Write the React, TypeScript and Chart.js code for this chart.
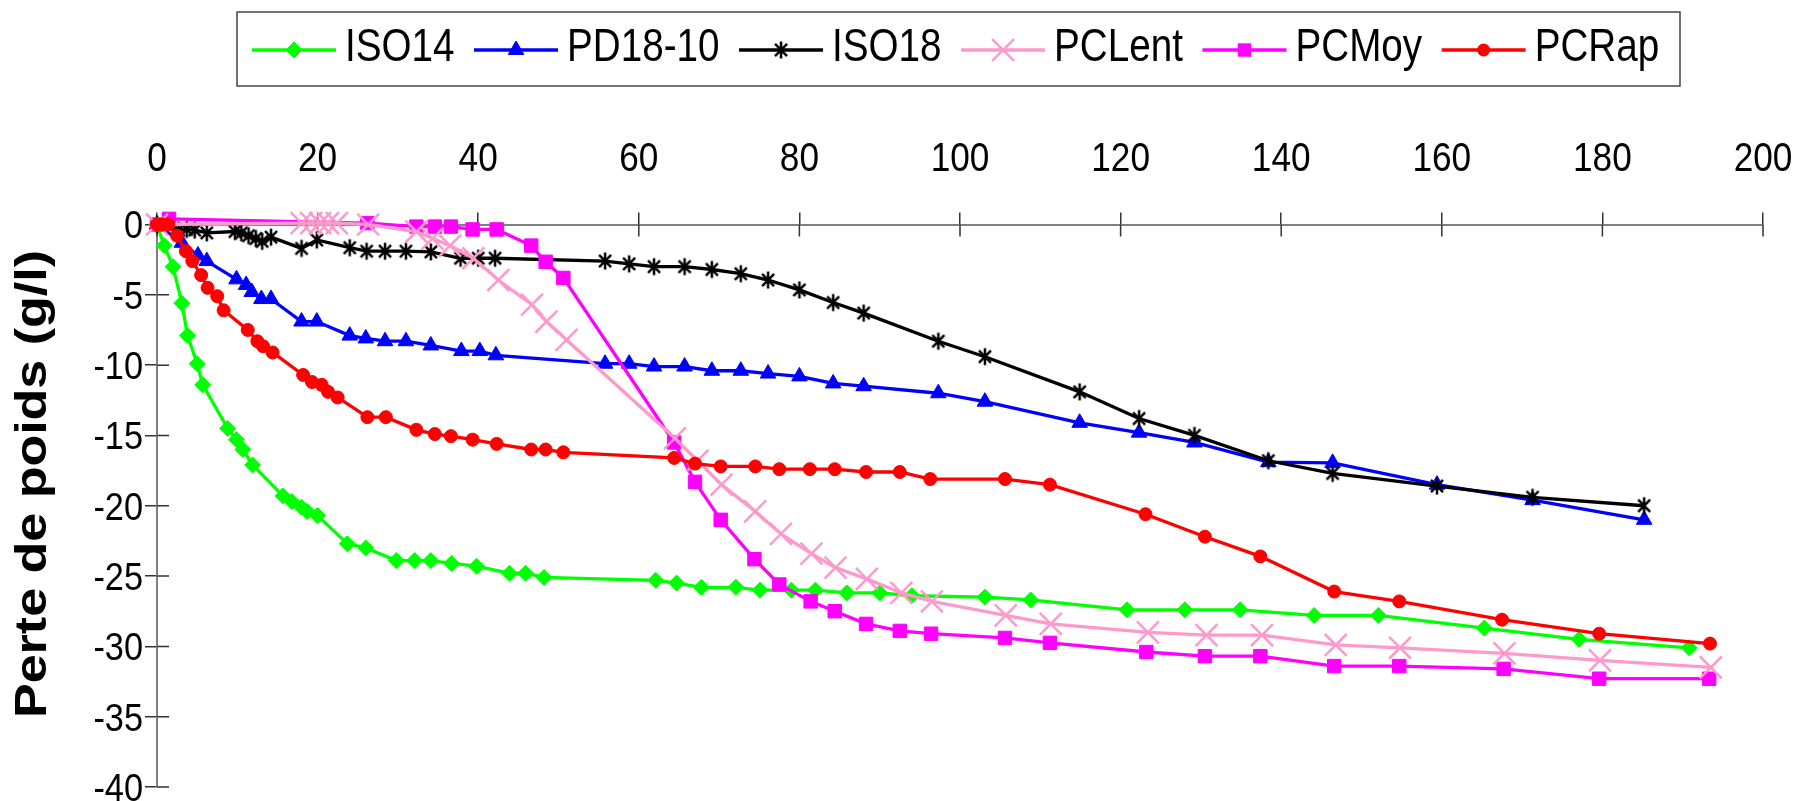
import React, { useEffect, useRef } from "react";
import { Chart, registerables } from "chart.js";

Chart.register(...registerables);

// ---------- data ----------
const seriesNames = ["ISO14", "PD18-10", "ISO18", "PCLent", "PCMoy", "PCRap"];

const iso14X = [0, 0.9, 2.0, 3.1, 3.8, 5.0, 5.7, 8.8, 9.9, 10.7, 11.9, 15.7, 16.8, 18.0, 18.7, 20.0, 23.7, 26.0, 29.8, 32.1, 34.1, 36.7, 39.8, 43.9, 45.9, 48.2, 62.1, 64.7, 67.8, 72.1, 75.1, 79.0, 82.0, 85.9, 90.0, 94.0, 103.1, 108.8, 120.8, 128.0, 134.9, 144.1, 152.1, 165.3, 177.1, 190.8];
const iso14Y = [0, -1.5, -3.0, -5.6, -7.9, -9.9, -11.4, -14.5, -15.3, -16.0, -17.1, -19.3, -19.7, -20.1, -20.4, -20.7, -22.7, -23.0, -23.9, -23.9, -23.9, -24.1, -24.3, -24.8, -24.8, -25.1, -25.3, -25.5, -25.8, -25.8, -26.0, -26.0, -26.0, -26.2, -26.2, -26.4, -26.5, -26.7, -27.4, -27.4, -27.4, -27.8, -27.8, -28.7, -29.5, -30.1];

const pd18X = [0, 3.1, 5.1, 6.2, 9.9, 11.1, 11.8, 13.0, 14.2, 18.0, 19.9, 24.0, 26.0, 28.4, 31.0, 34.1, 37.9, 40.2, 42.2, 55.8, 58.8, 61.9, 65.7, 69.1, 72.7, 76.1, 80.0, 84.2, 88.0, 97.3, 103.1, 114.9, 122.3, 129.2, 138.4, 146.4, 159.4, 171.3, 185.2];
const pd18Y = [0, -1.3, -2.2, -2.6, -3.9, -4.3, -4.8, -5.3, -5.3, -6.9, -6.9, -7.9, -8.1, -8.3, -8.3, -8.6, -9.0, -9.0, -9.3, -9.9, -9.9, -10.1, -10.1, -10.4, -10.4, -10.6, -10.8, -11.3, -11.5, -12.0, -12.6, -14.1, -14.8, -15.5, -16.9, -16.95, -18.5, -19.6, -21.0];

const iso18X = [0, 2.7, 3.7, 4.7, 6.2, 9.7, 10.5, 11.4, 12.3, 13.1, 14.2, 18.0, 19.9, 24.0, 26.1, 28.4, 31.0, 34.1, 37.8, 40.0, 42.1, 55.8, 58.8, 61.9, 65.7, 69.1, 72.7, 76.1, 80.0, 84.2, 88.0, 97.3, 103.1, 114.9, 122.3, 129.2, 138.4, 146.4, 159.4, 171.3, 185.2];
const iso18Y = [0, -0.4, -0.35, -0.4, -0.6, -0.5, -0.6, -0.8, -1.0, -1.2, -0.9, -1.7, -1.1, -1.65, -1.9, -1.9, -1.9, -1.95, -2.4, -2.4, -2.4, -2.6, -2.8, -3.0, -3.0, -3.2, -3.5, -3.95, -4.65, -5.55, -6.3, -8.3, -9.4, -11.9, -13.8, -15.0, -16.8, -17.7, -18.6, -19.4, -20.0];

const pcLentX = [0, 18.0, 19.2, 20.3, 21.3, 22.4, 26.3, 32.3, 34.3, 36.5, 39.4, 42.5, 46.7, 48.5, 51.0, 64.5, 67.3, 70.3, 74.5, 77.7, 81.5, 84.5, 88.4, 92.7, 96.5, 105.7, 111.3, 123.4, 130.7, 137.6, 146.8, 154.8, 167.8, 179.7, 193.5];
const pcLentY = [0, 0.1, 0.1, 0.1, 0.1, 0.1, 0, -0.5, -1.0, -1.5, -2.4, -3.95, -5.7, -6.9, -8.2, -15.2, -16.8, -18.5, -20.4, -22.0, -23.4, -24.4, -25.2, -26.2, -26.8, -27.8, -28.4, -29.0, -29.2, -29.2, -29.9, -30.1, -30.5, -31.0, -31.5];

const pcMoyX = [0, 1.5, 26.2, 32.3, 34.6, 36.6, 39.3, 42.3, 46.6, 48.4, 50.6, 64.4, 67.0, 70.2, 74.4, 77.5, 81.4, 84.4, 88.3, 92.5, 96.4, 105.6, 111.2, 123.2, 130.5, 137.4, 146.6, 154.7, 167.7, 179.6, 193.3];
const pcMoyY = [0, 0.4, 0.1, -0.15, -0.15, -0.15, -0.35, -0.35, -1.5, -2.65, -3.8, -15.5, -18.3, -21.0, -23.8, -25.6, -26.8, -27.5, -28.4, -28.9, -29.1, -29.4, -29.75, -30.4, -30.7, -30.7, -31.4, -31.4, -31.6, -32.3, -32.3];

const pcRapX = [0, 0.7, 1.4, 2.5, 3.6, 4.4, 5.5, 6.3, 7.5, 8.3, 11.3, 12.5, 13.2, 14.4, 18.2, 19.3, 20.5, 21.3, 22.5, 26.2, 28.5, 32.3, 34.6, 36.6, 39.3, 42.3, 46.6, 48.4, 50.6, 64.4, 67.0, 70.2, 74.5, 77.5, 81.3, 84.4, 88.3, 92.5, 96.3, 105.6, 111.2, 123.1, 130.5, 137.4, 146.6, 154.7, 167.5, 179.6, 193.4];
const pcRapY = [0, 0, 0, -0.8, -1.9, -2.6, -3.6, -4.5, -5.1, -6.1, -7.5, -8.3, -8.65, -9.1, -10.7, -11.2, -11.4, -11.9, -12.3, -13.7, -13.7, -14.6, -14.9, -15.05, -15.3, -15.6, -16.0, -16.0, -16.2, -16.6, -17.0, -17.2, -17.2, -17.4, -17.4, -17.4, -17.6, -17.6, -18.1, -18.1, -18.5, -20.6, -22.2, -23.6, -26.1, -26.8, -28.1, -29.1, -29.8];

const xAxisRange = [0, 200, 20]; // min, max, step
const yAxisRange = [-40, 0, 5];
const yTitle = "Perte de poids (g/l)";

// ---------- styles ----------
const FONT = "'Liberation Sans', Arial, sans-serif";
const CANVAS_W = 1802;
const CANVAS_H = 801;
const TEXT_SX = 0.88;

const seriesStyles = [
  { color: "#00FF00", pointStyle: "rectRot", radius: 8, pbw: 1, order: 6 },
  { color: "#0000FF", pointStyle: "triangle", radius: 9, pbw: 1, order: 5 },
  { color: "#000000", pointStyle: "asterisk", radius: 8.5, pbw: 2.5, order: 4 },
  { color: "#FF99CC", pointStyle: "crossRot", radius: 15.5, pbw: 2.5, order: 2 },
  { color: "#FF00FF", pointStyle: "rect", radius: 9.5, pbw: 1, order: 3 },
  { color: "#FF0000", pointStyle: "circle", radius: 6.5, pbw: 1, order: 1 },
];

const LEG = {
  left: 237, top: 12, width: 1443, height: 74,
  startX: 252, lineLen: 84, lineY: 50, textGap: 9, entryGap: 19.5,
  baseline: 61, fontSize: 46, sx: 0.84,
};

function toPoints(xs: number[], ys: number[]) {
  return xs.map((x, i) => ({ x, y: ys[i] }));
}

// six-armed asterisk marker (vertical bar + diagonal cross), as in the original
function makeAsterisk(r: number, lw: number, color: string) {
  const size = Math.ceil(2 * r + lw + 2);
  const c = document.createElement("canvas");
  c.width = size;
  c.height = size;
  const g = c.getContext("2d")!;
  const m = size / 2;
  const d = Math.SQRT1_2 * r;
  g.strokeStyle = color;
  g.lineWidth = lw;
  g.lineCap = "butt";
  g.beginPath();
  g.moveTo(m, m - r); g.lineTo(m, m + r);
  g.moveTo(m - d, m - d); g.lineTo(m + d, m + d);
  g.moveTo(m - d, m + d); g.lineTo(m + d, m - d);
  g.stroke();
  return c;
}

function drawMarker(ctx: CanvasRenderingContext2D, style: any, x: number, y: number, r: number, color: string, bw: number) {
  ctx.save();
  if (typeof style !== "string") {
    ctx.drawImage(style, x - style.width / 2, y - style.height / 2);
    ctx.restore();
    return;
  }
  ctx.fillStyle = color;
  ctx.strokeStyle = color;
  ctx.lineWidth = bw;
  ctx.beginPath();
  const d = Math.SQRT1_2 * r;
  switch (style) {
    case "rectRot":
      ctx.moveTo(x - r, y); ctx.lineTo(x, y - r); ctx.lineTo(x + r, y); ctx.lineTo(x, y + r); ctx.closePath();
      ctx.fill(); ctx.stroke();
      break;
    case "triangle": {
      let a = 0;
      ctx.moveTo(x + Math.sin(a) * r, y - Math.cos(a) * r);
      a += (2 * Math.PI) / 3;
      ctx.lineTo(x + Math.sin(a) * r, y - Math.cos(a) * r);
      a += (2 * Math.PI) / 3;
      ctx.lineTo(x + Math.sin(a) * r, y - Math.cos(a) * r);
      ctx.closePath(); ctx.fill(); ctx.stroke();
      break;
    }
    case "crossRot":
      ctx.moveTo(x - d, y - d); ctx.lineTo(x + d, y + d);
      ctx.moveTo(x - d, y + d); ctx.lineTo(x + d, y - d);
      ctx.stroke();
      break;
    case "rect":
      ctx.rect(x - d, y - d, 2 * d, 2 * d); ctx.fill();
      break;
    default:
      ctx.arc(x, y, r, 0, Math.PI * 2); ctx.fill();
  }
  ctx.restore();
}

function drawScaledText(ctx: CanvasRenderingContext2D, text: string, x: number, y: number, sx: number, align: "left" | "center" | "right") {
  const w = ctx.measureText(text).width * sx;
  let left = x;
  if (align === "center") left = x - w / 2;
  if (align === "right") left = x - w;
  ctx.save();
  ctx.translate(left, y);
  ctx.scale(sx, 1);
  ctx.textAlign = "left";
  ctx.fillText(text, 0, 0);
  ctx.restore();
  return w;
}

const boxLegend = {
  id: "boxLegend",
  afterDraw(chart: any) {
    const ctx = chart.ctx as CanvasRenderingContext2D;
    ctx.save();
    ctx.strokeStyle = "#444444";
    ctx.lineWidth = 1.5;
    ctx.strokeRect(LEG.left, LEG.top, LEG.width, LEG.height);
    ctx.font = `${LEG.fontSize}px ${FONT}`;
    ctx.textBaseline = "alphabetic";
    ctx.fillStyle = "#000000";
    let x = LEG.startX;
    chart.data.datasets.forEach((ds: any) => {
      ctx.strokeStyle = ds.borderColor;
      ctx.lineWidth = ds.borderWidth;
      ctx.beginPath();
      ctx.moveTo(x, LEG.lineY);
      ctx.lineTo(x + LEG.lineLen, LEG.lineY);
      ctx.stroke();
      drawMarker(ctx, ds.pointStyle, x + LEG.lineLen / 2, LEG.lineY, ds.pointRadius, ds.borderColor, ds.pointBorderWidth);
      x += LEG.lineLen + LEG.textGap;
      ctx.fillStyle = "#000000";
      const w = drawScaledText(ctx, ds.label, x, LEG.baseline, LEG.sx, "left");
      x += w + LEG.entryGap;
    });
    ctx.restore();
  },
};

const yTitlePlugin = {
  id: "yTitleDraw",
  afterDraw(chart: any) {
    const ctx = chart.ctx as CanvasRenderingContext2D;
    ctx.save();
    ctx.translate(34, 484);
    ctx.scale(0.84, 1);
    ctx.rotate(-Math.PI / 2);
    ctx.font = `bold 52px ${FONT}`;
    ctx.fillStyle = "#000000";
    ctx.textAlign = "center";
    ctx.textBaseline = "middle";
    ctx.fillText(yTitle, 0, 0);
    ctx.restore();
  },
};

// tick marks that cross the axis (inner half) + tick labels
const axisDecor = {
  id: "axisDecor",
  beforeDatasetsDraw(chart: any) {
    const ctx = chart.ctx as CanvasRenderingContext2D;
    const xs = chart.scales.x;
    const ys = chart.scales.y;
    const len = 12;
    ctx.save();
    ctx.strokeStyle = "#333333";
    ctx.lineWidth = 1.5;
    ctx.beginPath();
    xs.ticks.forEach((t: any) => {
      const px = xs.getPixelForValue(t.value);
      ctx.moveTo(px, xs.bottom);
      ctx.lineTo(px, xs.bottom + len);
    });
    ys.ticks.forEach((t: any) => {
      const py = ys.getPixelForValue(t.value);
      ctx.moveTo(ys.right, py);
      ctx.lineTo(ys.right + len, py);
    });
    ctx.stroke();
    ctx.restore();
  },
  afterDraw(chart: any) {
    const ctx = chart.ctx as CanvasRenderingContext2D;
    const xs = chart.scales.x;
    const ys = chart.scales.y;
    ctx.save();
    ctx.fillStyle = "#000000";
    ctx.textBaseline = "alphabetic";
    const xSize = 40;
    ctx.font = `${xSize}px ${FONT}`;
    xs.ticks.forEach((t: any) => {
      const px = xs.getPixelForValue(t.value);
      const label = t.label !== undefined ? String(t.label) : String(t.value);
      drawScaledText(ctx, label, px, xs.bottom - 54, TEXT_SX, "center");
    });
    const ySize = 39;
    ctx.font = `${ySize}px ${FONT}`;
    ys.ticks.forEach((t: any) => {
      const py = ys.getPixelForValue(t.value);
      const label = t.label !== undefined ? String(t.label) : String(t.value);
      drawScaledText(ctx, label, ys.right - 14, py + 0.716 * ySize / 2, TEXT_SX, "right");
    });
    ctx.restore();
  },
};

export default function App() {
  const ref = useRef<HTMLCanvasElement | null>(null);

  useEffect(() => {
    if (!ref.current) return;
    const allX = [iso14X, pd18X, iso18X, pcLentX, pcMoyX, pcRapX];
    const allY = [iso14Y, pd18Y, iso18Y, pcLentY, pcMoyY, pcRapY];
    const datasets = seriesNames.map((name, i) => {
      const s = seriesStyles[i];
      const ps = s.pointStyle === "asterisk" ? makeAsterisk(s.radius, s.pbw, s.color) : s.pointStyle;
      return {
        label: name,
        data: toPoints(allX[i], allY[i]),
        borderColor: s.color,
        backgroundColor: s.color,
        pointBackgroundColor: s.color,
        pointBorderColor: s.color,
        pointStyle: ps,
        pointRadius: s.radius,
        pointBorderWidth: s.pbw,
        borderWidth: 3.3,
        tension: 0,
        fill: false,
        showLine: true,
        clip: false,
        order: s.order,
      };
    });

    const chart = new Chart(ref.current, {
      type: "line",
      data: { datasets: datasets as any },
      options: {
        responsive: false,
        animation: false,
        events: [],
        layout: { autoPadding: false, padding: { top: 108, right: 39, bottom: 14, left: 0 } },
        plugins: { legend: { display: false }, tooltip: { enabled: false }, title: { display: false } },
        scales: {
          x: {
            type: "linear",
            position: "top",
            min: xAxisRange[0],
            max: xAxisRange[1],
            ticks: { stepSize: xAxisRange[2], display: false, autoSkip: false },
            grid: { display: true, drawOnChartArea: false, drawTicks: true, tickLength: 12, color: "#333333", lineWidth: 1.5 },
            border: { display: true, color: "#808080", width: 2 },
            afterFit: (s: any) => {
              s.height = 116.5;
              s.paddingLeft = 0; s.paddingRight = 0; s.paddingTop = 0; s.paddingBottom = 0;
            },
          },
          y: {
            type: "linear",
            position: "left",
            min: yAxisRange[0],
            max: yAxisRange[1],
            ticks: { stepSize: yAxisRange[2], display: false, autoSkip: false },
            grid: { display: true, drawOnChartArea: false, drawTicks: true, tickLength: 12, color: "#333333", lineWidth: 1.5 },
            border: { display: true, color: "#808080", width: 2 },
            afterFit: (s: any) => {
              s.width = 157;
              s.paddingLeft = 0; s.paddingRight = 0; s.paddingTop = 0; s.paddingBottom = 0;
            },
          },
        },
      } as any,
      plugins: [axisDecor, boxLegend, yTitlePlugin],
    });
    return () => chart.destroy();
  }, []);

  return (
    <div style={{ position: "absolute", left: 0, top: 0, width: CANVAS_W, height: CANVAS_H, overflow: "hidden", background: "#ffffff" }}>
      <canvas ref={ref} width={CANVAS_W} height={CANVAS_H} style={{ display: "block" }} />
    </div>
  );
}
